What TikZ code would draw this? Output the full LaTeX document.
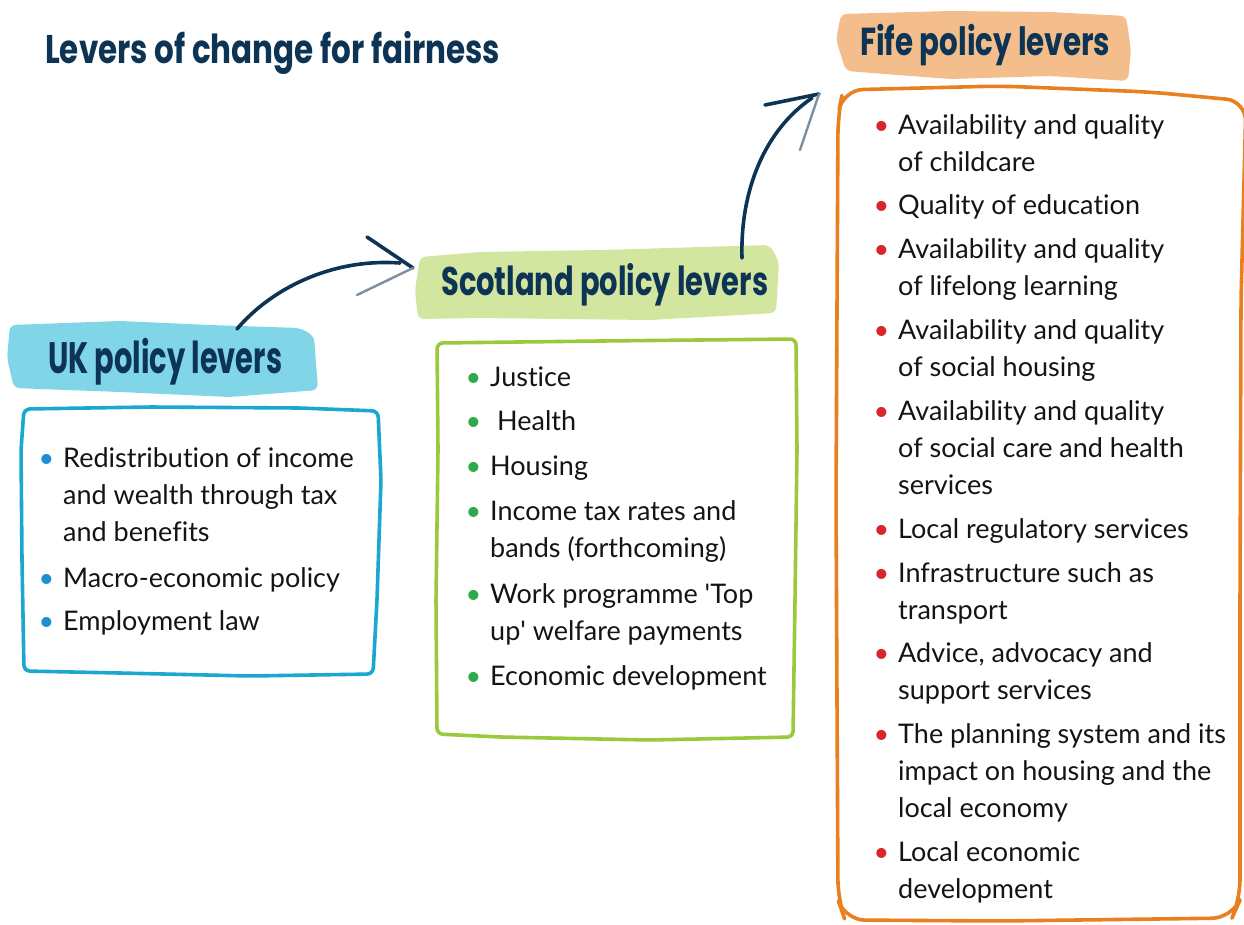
\documentclass[tikz,border=0pt]{standalone}
\usepackage{fontspec}
\usepackage{graphicx}
\setmainfont{Lato}[Ligatures={NoCommon}]
\newfontfamily\hand{Poppins}
\definecolor{navy}{HTML}{0D3455}
\definecolor{ukfill}{HTML}{80D5E6}
\definecolor{ukline}{HTML}{1AA7D0}
\definecolor{ukbul}{HTML}{1F8FD0}
\definecolor{scfill}{HTML}{D3E69F}
\definecolor{scline}{HTML}{9ACA3C}
\definecolor{scbul}{HTML}{2DAA4A}
\definecolor{fifefill}{HTML}{F3BE8C}
\definecolor{fifeline}{HTML}{E8801F}
\definecolor{fifebul}{HTML}{D7262E}
\definecolor{txt}{HTML}{141414}
\newcommand\bul[1]{\makebox[0pt][r]{\textcolor{#1}{\textbullet}\hspace{9pt}}}
\tikzset{
  hd/.style={anchor=base west, inner sep=0pt, text=navy, font=\hand\bfseries\fontsize{#1}{#1}\selectfont},
  lst/.style={anchor=base west, inner sep=0pt, text=txt, font=\fontsize{27}{37}\selectfont},
  frame/.style={line width=3.6pt, rounded corners=6pt, line join=round},
  brush/.style={draw=navy, line width=3.6pt, line cap=round},
  faint/.style={draw=navy!55, line width=2.4pt, line cap=round},
}
\begin{document}
\begin{tikzpicture}[x=1pt,y=-1pt]
\useasboundingbox (0,0) rectangle (1244,924);
% banners
\fill[ukfill, rounded corners=6pt] (10,325) -- (120,321) -- (210,325) -- (300,328) -- (314,336) -- (318,390) -- (230,397) -- (120,392) -- (14,388) -- (7,358) -- cycle;
\fill[scfill, rounded corners=6pt] (420,257) -- (480,252) -- (600,250) -- (770,245) -- (779,262) -- (776,313) -- (650,320) -- (480,318) -- (418,319) -- (415,290) -- cycle;
\fill[fifefill, rounded corners=6pt] (841,14) -- (950,11) -- (1050,12) -- (1126,16) -- (1131,50) -- (1128,81) -- (1050,76) -- (950,79) -- (846,71) -- (836,40) -- cycle;
% boxes
\draw[frame, ukline] (24,409) -- (150,407) -- (300,408) -- (378,411) -- (381,480) -- (377,600) -- (373,674) -- (250,676) -- (120,673) -- (24,671) -- (22,560) -- (21,450) -- cycle;
\draw[frame, scline] (437,343) -- (600,341) -- (796,339) -- (797,450) -- (795,600) -- (793,737) -- (650,740) -- (500,737) -- (437,734) -- (436,600) -- (438,450) -- cycle;
\draw[frame, fifeline, rounded corners=20pt] (838,115) -- (843,90) -- (1000,86) -- (1150,92) -- (1246,101) -- (1241,300) -- (1240,600) -- (1240,900) -- (1232,918) -- (1000,921) -- (845,920) -- (838,900) -- (836,500) -- cycle;
% headings
\node[hd=40] (title) at (45,63) {\resizebox{455pt}{\height}{Levers of change for fairness}};
\node[hd=44] (ukt) at (48,373) {\resizebox{234pt}{\height}{UK policy levers}};
\node[hd=40] (sct) at (441,295) {\resizebox{327pt}{\height}{Scotland policy levers}};
\node[hd=39] (fifet) at (860,55) {\resizebox{250pt}{\height}{Fife policy levers}};
% connector anchors
\coordinate (a1s) at (237,329);
\coordinate (a1t) at (413,268);
\coordinate (a2s) at (742,258);
\coordinate (a2t) at (819,94);
% arrows
\draw[brush] (a1s) .. controls (270,290) and (330,258) .. (400,263);
\draw[brush] (367,237) -- (a1t);
\draw[faint] (a1t) -- (357,295);
\draw[brush] (a2s) .. controls (740,190) and (765,130) .. (812,98);
\draw[brush] (765,105) -- (a2t);
\draw[faint] (a2t) -- (800,150);
% UK list
\node[lst] (uk1) at (63,467) {\bul{ukbul}Redistribution of income};
\node[lst] (uk1b) at (63,504) {and wealth through tax};
\node[lst] (uk1c) at (63,541) {and benefits};
\node[lst] (uk2) at (63,587) {\bul{ukbul}Macro-economic policy};
\node[lst] (uk3) at (63,630) {\bul{ukbul}Employment law};
% Scotland list
\node[lst] (sc1) at (490,386) {\bul{scbul}Justice};
\node[lst] (sc2) at (490,430) {\bul{scbul}\ Health};
\node[lst] (sc3) at (490,475) {\bul{scbul}Housing};
\node[lst] (sc4) at (490,520) {\bul{scbul}Income tax rates and};
\node[lst] (sc4b) at (490,557) {bands (forthcoming)};
\node[lst] (sc5) at (490,603) {\bul{scbul}Work programme \textquotesingle Top};
\node[lst] (sc5b) at (490,640) {up\textquotesingle\ welfare payments};
\node[lst] (sc6) at (490,685) {\bul{scbul}Economic development};
% Fife list
\node[lst] (f1) at (898,134.5) {\bul{fifebul}Availability and quality};
\node[lst] (f1b) at (898,171.5) {of childcare};
\node[lst] (f2) at (898,214.5) {\bul{fifebul}Quality of education};
\node[lst] (f3) at (898,258.5) {\bul{fifebul}Availability and quality};
\node[lst] (f3b) at (898,295.5) {of lifelong learning};
\node[lst] (f4) at (898,339.5) {\bul{fifebul}Availability and quality};
\node[lst] (f4b) at (898,376.5) {of social housing};
\node[lst] (f5) at (898,420.5) {\bul{fifebul}Availability and quality};
\node[lst] (f5b) at (898,457.5) {of social care and health};
\node[lst] (f5c) at (898,494.5) {services};
\node[lst] (f6) at (898,538) {\bul{fifebul}Local regulatory services};
\node[lst] (f7) at (898,582) {\bul{fifebul}Infrastructure such as};
\node[lst] (f7b) at (898,619) {transport};
\node[lst] (f8) at (898,662) {\bul{fifebul}Advice, advocacy and};
\node[lst] (f8b) at (898,699) {support services};
\node[lst] (f9) at (898,743) {\bul{fifebul}The planning system and its};
\node[lst] (f9b) at (898,780) {impact on housing and the};
\node[lst] (f9c) at (898,817) {local economy};
\node[lst] (f10) at (898,861) {\bul{fifebul}Local economic};
\node[lst] (f10b) at (898,898) {development};
\end{tikzpicture}
\end{document}
